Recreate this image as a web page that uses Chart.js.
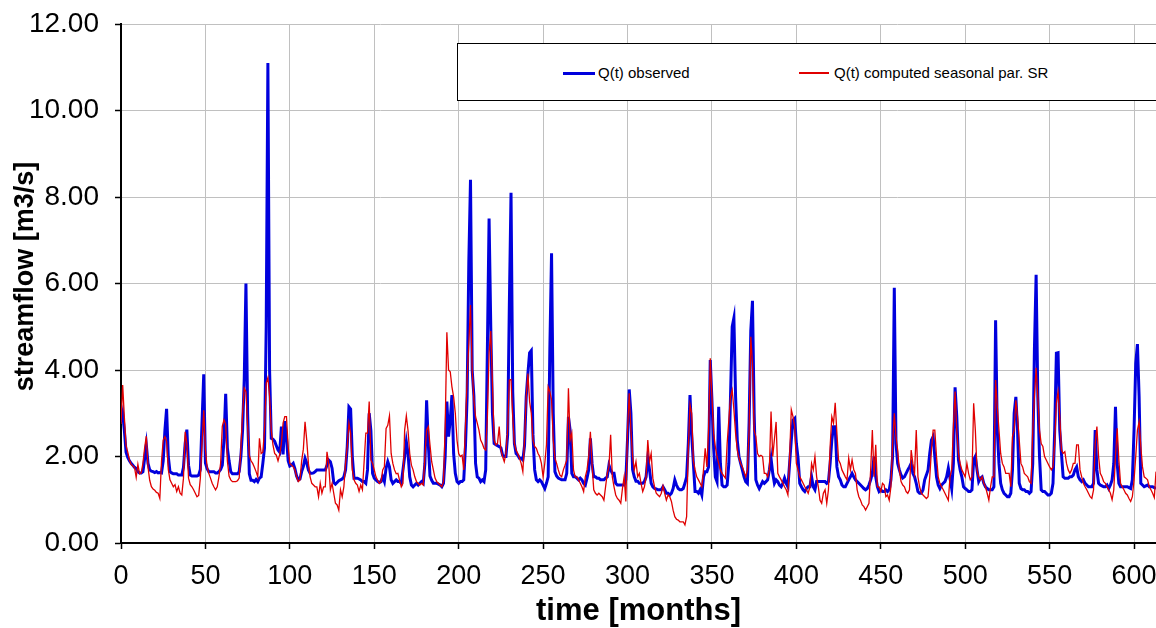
<!DOCTYPE html>
<html>
<head>
<meta charset="utf-8">
<title>Streamflow: observed vs computed</title>
<script src="https://cdn.jsdelivr.net/npm/chart.js@4.4.1/dist/chart.umd.min.js"></script>
<style>
  html, body { margin:0; padding:0; background:#fff; }
  #wrap { position:relative; width:1156px; height:628px; overflow:hidden; }
  #chart { position:absolute; left:0; top:0; }
  #legend { position:absolute; left:457px; top:43px; width:760px; height:58px; box-sizing:border-box;
            border:1.5px solid #000; background:#fff;
            font-family:'Liberation Sans', Arial, sans-serif; font-size:15px; color:#000; }
  .sw { position:absolute; }
  .lt { position:absolute; white-space:nowrap; line-height:18px; }
</style>
</head>
<body>
<div id="wrap">
  <canvas id="chart" width="1156" height="628"></canvas>
  <div id="legend"></div>
</div>
<script>
// ---- chart data (monthly values, month index = position in array) ----
const obsName = 'Q(t) observed';
const simName = 'Q(t) computed seasonal par. SR';
const xTitle = 'time [months]';
const yTitle = 'streamflow [m3/s]';
const xMax = 613;
const xStep = 50;
const yMin = 0, yMax = 12, yStep = 2;

const obs = [
  2.8, 3.0, 2.6, 2.1, 1.98, 1.9, 1.84, 1.8, 1.75, 1.72, 1.65, 1.62,
  1.62, 1.65, 1.95, 2.27, 1.84, 1.69, 1.66, 1.65, 1.63, 1.65, 1.62, 1.63,
  1.62, 1.9, 2.6, 3.1, 2.0, 1.65, 1.62, 1.6, 1.6, 1.6, 1.57, 1.57,
  1.57, 1.75, 2.3, 2.62, 1.8, 1.57, 1.55, 1.55, 1.55, 1.55, 1.57, 1.7,
  2.8, 3.9, 1.85, 1.72, 1.65, 1.65, 1.65, 1.65, 1.62, 1.62, 1.65, 1.7,
  1.8, 2.4, 3.45, 2.2, 1.9, 1.65, 1.6, 1.6, 1.6, 1.6, 1.65, 2.0,
  2.6, 3.8, 6.0, 3.0, 1.6, 1.45, 1.45, 1.42, 1.47, 1.42, 1.5, 1.53,
  1.84, 2.2, 5.0, 11.1, 4.0, 2.42, 2.4, 2.35, 2.25, 2.15, 2.1, 2.69,
  2.05, 2.82, 2.45, 1.9, 1.78, 1.8, 1.84, 1.72, 1.55, 1.46, 1.48, 1.65,
  1.77, 1.96, 1.85, 1.69, 1.61, 1.61, 1.62, 1.65, 1.69, 1.69, 1.69, 1.69,
  1.69, 1.69, 1.8, 1.92, 1.88, 1.73, 1.4, 1.36, 1.4, 1.44, 1.46, 1.48, 1.53,
  1.69, 2.23, 3.15, 3.1, 2.0, 1.5, 1.5, 1.5, 1.48, 1.46, 1.42, 1.42,
  1.38, 1.69, 3.0, 2.6, 1.61, 1.5, 1.46, 1.42, 1.4, 1.42, 1.53, 1.42,
  1.73, 1.88, 1.76, 1.46, 1.38, 1.42, 1.46, 1.42, 1.42, 1.38, 1.69, 2.0,
  2.34, 2.07, 1.53, 1.34, 1.3, 1.34, 1.38, 1.34, 1.38, 1.42, 1.38, 1.84,
  3.3, 2.3, 1.55, 1.45, 1.38, 1.38, 1.38, 1.36, 1.34, 1.3, 1.38, 2.0,
  3.27, 2.46, 2.84, 3.42, 2.07, 1.61, 1.42, 1.38, 1.42, 1.42, 1.46, 2.23,
  3.38, 6.5, 8.4, 4.0, 3.4, 1.84, 1.53, 1.5, 1.42, 1.46, 1.42, 1.69,
  4.5, 7.5, 5.0, 3.0, 2.3, 2.27, 2.25, 2.23, 2.2, 2.03, 2.0, 2.0,
  2.5, 5.5, 8.1, 3.5, 2.3, 2.07, 2.03, 1.96, 1.96, 1.92, 2.25, 3.38,
  3.92, 4.4, 4.45, 2.5, 1.69, 1.46, 1.42, 1.46, 1.42, 1.34, 1.26, 1.38,
  1.53, 4.5, 6.7, 3.0, 1.65, 1.55, 1.5, 1.48, 1.46, 1.46, 1.46, 1.61,
  2.92, 2.61, 1.61, 1.53, 1.53, 1.5, 1.46, 1.5, 1.46, 1.38, 1.34, 1.5,
  1.69, 2.42, 1.84, 1.53, 1.53, 1.5, 1.5, 1.46, 1.46, 1.46, 1.5, 1.53,
  1.8, 1.69, 1.61, 1.61, 1.38, 1.34, 1.34, 1.34, 1.34, 1.34, 1.46, 2.4,
  3.55, 3.0, 1.7, 1.53, 1.43, 1.43, 1.38, 1.38, 1.38, 1.42, 1.53, 1.96,
  1.7, 1.38, 1.3, 1.26, 1.25, 1.23, 1.23, 1.23, 1.3, 1.23, 1.15, 1.15,
  1.11, 1.15, 1.26, 1.46, 1.34, 1.26, 1.23, 1.23, 1.26, 1.38, 1.53, 2.3,
  3.42, 2.5, 1.84, 1.19, 1.19, 1.15, 1.23, 1.11, 1.53, 1.65, 1.65, 1.76,
  4.23, 3.3, 2.2, 1.53, 1.42, 3.15, 1.84, 1.34, 1.3, 1.3, 1.34, 1.84, 3.38,
  5.0, 5.2, 3.38, 2.38, 2.0, 1.84, 1.69, 1.53, 1.42, 1.38, 2.77, 4.9,
  5.6, 3.0, 1.46, 1.34, 1.26, 1.34, 1.42, 1.38, 1.42, 1.46, 1.69, 1.96,
  1.61, 1.38, 1.46, 1.42, 1.34, 1.3, 1.38, 1.5, 1.38, 1.3, 1.84, 2.38,
  2.84, 2.88, 2.3, 1.96, 1.38, 1.3, 1.23, 1.19, 1.26, 1.3, 1.3, 1.53,
  1.3, 1.23, 1.42, 1.42, 1.42, 1.42, 1.42, 1.42, 1.38, 1.42, 1.84, 2.38,
  2.69, 2.69, 1.76, 1.53, 1.46, 1.34, 1.3, 1.3, 1.38, 1.46, 1.53, 1.61,
  1.53, 1.46, 1.42, 1.38, 1.34, 1.3, 1.26, 1.23, 1.26, 1.34, 1.46, 1.61,
  2.0, 1.53, 1.3, 1.19, 1.23, 1.19, 1.19, 1.23, 1.19, 1.23, 1.46, 2.0,
  5.9, 2.3, 1.84, 1.69, 1.57, 1.5, 1.53, 1.61, 1.69, 1.76, 1.84, 1.61,
  1.53, 1.38, 1.19, 1.15, 1.15, 1.23, 1.46, 1.57, 1.69, 2.07, 2.38, 2.46,
  2.0, 1.53, 1.34, 1.26, 1.34, 1.38, 1.42, 1.53, 1.73, 1.5, 1.26, 1.84,
  3.6, 2.92, 1.92, 1.69, 1.53, 1.3, 1.26, 1.23, 1.19, 1.19, 1.23, 1.92,
  2.0, 1.69, 1.42, 1.5, 1.53, 1.38, 1.3, 1.26, 1.23, 1.23, 1.23, 1.3,
  5.15, 2.61, 1.84, 1.38, 1.23, 1.15, 1.11, 1.07, 1.07, 1.15, 1.69, 3.0,
  3.38, 2.61, 1.38, 1.26, 1.23, 1.23, 1.19, 1.19, 1.15, 1.19, 1.84, 4.5,
  6.2, 3.38, 2.0, 1.23, 1.19, 1.19, 1.15, 1.11, 1.11, 1.15, 1.38, 2.61,
  4.39, 4.4, 2.61, 2.07, 1.53, 1.5, 1.5, 1.5, 1.53, 1.53, 1.57, 1.69,
  1.76, 1.53, 1.46, 1.42, 1.46, 1.38, 1.34, 1.3, 1.3, 1.3, 1.38, 2.61,
  1.69, 1.38, 1.34, 1.32, 1.3, 1.3, 1.34, 1.26, 1.34, 1.46, 1.84, 3.15,
  1.84, 1.38, 1.3, 1.3, 1.3, 1.3, 1.3, 1.28, 1.26, 1.46, 2.61, 4.15,
  4.6, 3.38, 1.38, 1.34, 1.3, 1.32, 1.34, 1.3, 1.3, 1.3, 1.28, 1.26
];

const sim = [
  2.75, 3.65, 2.9, 2.25, 2.1, 1.92, 1.82, 1.78, 1.75, 1.52, 1.82, 1.6,
  1.62, 1.85, 2.2, 2.47, 1.75, 1.45, 1.3, 1.25, 1.22, 1.17, 1.15, 1.03,
  1.9, 2.38, 2.46, 2.35, 1.7, 1.46, 1.38, 1.3, 1.35, 1.19, 1.3, 1.15,
  1.11, 1.5, 2.57, 2.3, 1.5, 1.35, 1.3, 1.23, 1.15, 1.07, 1.1, 1.5,
  2.3, 3.07, 2.15, 1.76, 1.61, 1.5, 1.38, 1.3, 1.23, 1.3, 1.53, 1.84,
  2.7, 2.85, 2.75, 1.9, 1.55, 1.46, 1.42, 1.42, 1.42, 1.44, 1.5, 2.2,
  3.0, 3.58, 3.5, 2.69, 2.03, 1.9, 1.84, 1.75, 1.65, 1.53, 2.42, 2.07,
  2.1, 2.61, 3.69, 3.82, 3.38, 2.6, 2.27, 2.07, 2.03, 1.9, 2.05, 2.3,
  2.77, 2.92, 2.92, 2.23, 1.84, 1.8, 1.76, 1.69, 1.53, 1.42, 1.46, 1.9,
  2.17, 2.8, 2.38, 1.84, 1.53, 1.38, 1.34, 1.3, 1.3, 1.07, 1.38, 1.15,
  1.3, 1.3, 2.11, 1.84, 1.23, 1.38, 1.15, 0.92, 0.88, 0.76, 1.23, 1.07, 1.3,
  1.84, 2.23, 2.77, 2.54, 1.69, 1.46, 1.38, 1.34, 1.19, 1.34, 1.23, 1.88,
  2.54, 2.54, 3.27, 1.92, 1.84, 1.69, 1.53, 1.45, 1.38, 1.42, 1.69, 1.76,
  2.65, 2.72, 2.94, 2.07, 1.84, 1.69, 1.6, 1.61, 1.45, 1.3, 1.38, 2.61,
  2.94, 2.6, 2.07, 1.8, 1.69, 1.53, 1.42, 1.38, 1.34, 1.38, 1.34, 2.0,
  2.61, 2.69, 2.27, 1.88, 1.69, 1.5, 1.42, 1.38, 1.34, 1.3, 1.42, 2.69,
  4.87, 4.0, 3.96, 3.61, 3.38, 3.0, 2.38, 2.07, 2.0, 2.03, 1.69, 2.69,
  3.8, 4.6, 5.5, 4.0, 3.3, 2.92, 2.77, 2.61, 2.38, 2.3, 2.19, 2.15,
  2.92, 4.4, 4.9, 3.69, 2.38, 2.27, 2.3, 2.69, 2.15, 2.0, 1.88, 2.07,
  2.61, 3.77, 3.78, 2.92, 2.3, 2.15, 2.07, 1.96, 1.84, 1.65, 2.38, 3.38,
  3.92, 3.27, 3.0, 2.38, 2.23, 2.19, 2.07, 2.0, 1.84, 1.53, 1.84, 2.27,
  3.61, 3.5, 3.31, 2.38, 1.96, 1.84, 1.69, 1.57, 1.53, 1.69, 1.8, 1.92,
  3.58, 2.38, 2.54, 1.69, 1.53, 1.53, 1.46, 1.38, 1.3, 1.19, 1.53, 1.69,
  2.0, 2.57, 1.8, 1.23, 1.15, 1.11, 1.15, 1.11, 1.07, 0.99, 1.3, 1.61,
  1.76, 2.5, 1.53, 1.3, 1.11, 1.03, 0.99, 0.92, 1.26, 1.53, 0.96, 2.61,
  3.46, 2.61, 2.0, 1.69, 1.88, 1.53, 1.61, 1.38, 1.19, 1.3, 1.53, 2.38,
  1.88, 2.07, 1.5, 1.3, 1.15, 1.11, 1.07, 1.15, 1.32, 1.15, 0.99, 1.11,
  1.07, 0.96, 0.76, 0.61, 0.55, 0.53, 0.49, 0.49, 0.49, 0.42, 0.61, 2.2,
  3.2, 3.0, 1.9, 1.69, 1.53, 1.46, 1.38, 1.3, 1.69, 2.19, 1.76, 2.61,
  4.27, 3.38, 2.54, 2.23, 2.0, 1.84, 1.69, 1.61, 1.55, 1.5, 2.3, 2.84, 3.38,
  3.54, 3.08, 2.54, 2.15, 1.96, 1.84, 1.76, 1.65, 1.53, 1.69, 2.61, 4.77,
  4.15, 2.61, 2.46, 2.07, 2.0, 2.03, 2.0, 1.61, 1.61, 1.53, 1.7, 3.04,
  2.0, 2.4, 2.8, 1.61, 1.53, 1.46, 1.38, 1.3, 1.23, 1.11, 2.0, 3.08,
  2.92, 2.69, 1.84, 1.69, 1.53, 1.46, 1.38, 1.3, 1.23, 1.15, 1.3, 1.84,
  1.69, 2.0, 1.53, 1.3, 0.99, 0.92, 1.15, 1.23, 0.92, 1.23, 2.23, 2.92,
  2.77, 3.24, 2.54, 1.92, 1.84, 1.69, 1.61, 1.53, 1.46, 1.96, 1.69, 1.92,
  1.69, 1.61, 1.23, 1.07, 0.99, 0.88, 0.84, 0.76, 0.84, 0.92, 1.69, 2.61,
  1.53, 2.27, 1.3, 1.3, 1.19, 1.38, 1.34, 1.07, 1.11, 0.99, 1.3, 2.3,
  3.0, 2.46, 2.15, 1.69, 1.42, 1.34, 1.3, 1.19, 1.15, 1.23, 2.15, 1.84,
  1.61, 2.61, 1.53, 1.3, 1.15, 1.11, 1.07, 1.03, 1.07, 1.53, 2.15, 2.61,
  2.61, 2.0, 1.53, 1.38, 1.3, 1.23, 1.15, 1.07, 0.99, 1.53, 1.69, 2.69,
  3.5, 2.61, 2.07, 1.84, 1.69, 1.61, 1.53, 1.84, 1.61, 1.46, 1.53, 3.23,
  2.61, 1.69, 1.53, 1.46, 1.53, 1.38, 1.3, 1.15, 0.99, 1.3, 1.53, 1.53,
  3.77, 3.15, 2.61, 2.07, 1.84, 1.76, 1.61, 1.61, 1.61, 1.3, 2.46, 2.61,
  3.3, 2.92, 2.38, 1.84, 1.76, 1.61, 1.57, 1.53, 1.42, 1.38, 2.61, 3.38,
  4.05, 3.38, 2.61, 2.3, 2.23, 2.0, 1.92, 1.84, 1.76, 1.69, 1.76, 2.3,
  3.23, 3.5, 2.92, 2.15, 2.07, 2.11, 1.84, 1.69, 1.61, 1.69, 1.84, 1.84,
  2.27, 2.27, 1.69, 1.53, 1.38, 1.3, 1.23, 1.15, 1.07, 1.03, 1.23, 2.3,
  2.69, 2.0, 1.61, 1.53, 1.42, 1.38, 1.3, 1.23, 1.15, 1.0, 1.23, 2.0,
  2.65, 1.92, 1.38, 1.3, 1.23, 1.15, 1.11, 1.03, 0.96, 1.07, 1.46, 2.0,
  2.61, 2.8, 2.23, 1.76, 1.53, 1.5, 1.46, 1.3, 1.23, 1.15, 1.05, 1.65
];

// ---- styles ----
const obsColor = '#0000dd';
const simColor = '#e00000';
const fontFamily = "'Liberation Sans', Arial, sans-serif";

// ---- legend (HTML text) ----
const legend = document.getElementById('legend');
[
  {text: obsName, color: obsColor, lw: 3,   lineLeft: 105, lineW: 32, textLeft: 140},
  {text: simName, color: simColor, lw: 1.5, lineLeft: 341, lineW: 30, textLeft: 376}
].forEach(it => {
  const sw = document.createElement('div');
  sw.className = 'sw';
  sw.style.left = it.lineLeft + 'px';
  sw.style.width = it.lineW + 'px';
  sw.style.height = it.lw + 'px';
  sw.style.top = (29 - it.lw / 2) + 'px';
  sw.style.background = it.color;
  legend.appendChild(sw);
  const t = document.createElement('div');
  t.className = 'lt';
  t.style.left = it.textLeft + 'px';
  t.style.top = '20px';
  t.textContent = it.text;
  legend.appendChild(t);
});

// ---- y-axis title, drawn rotated beside the axis ----
const yTitlePlugin = {
  id: 'yAxisTitle',
  afterDraw(chart) {
    const ctx = chart.ctx;
    const yScale = chart.scales.y;
    ctx.save();
    ctx.translate(26, (yScale.top + yScale.bottom) / 2 - 7);
    ctx.rotate(-Math.PI / 2);
    ctx.font = 'bold 27px ' + fontFamily;
    ctx.fillStyle = '#000';
    ctx.textAlign = 'center';
    ctx.textBaseline = 'middle';
    ctx.fillText(yTitle, 0, 0);
    ctx.restore();
  }
};

// ---- chart ----
Chart.defaults.font.family = fontFamily;
Chart.defaults.color = '#000';

const gridOpts = { color: '#c0c0c0', lineWidth: 1, tickColor: '#000', tickLength: 6, tickWidth: 1.5 };
const borderOpts = { color: '#000', width: 2 };

new Chart(document.getElementById('chart'), {
  type: 'line',
  data: {
    datasets: [
      { label: simName, data: sim.map((v, i) => ({x: i, y: v})), borderColor: simColor,
        borderWidth: 1.3, pointRadius: 0, tension: 0, fill: false },
      { label: obsName, data: obs.map((v, i) => ({x: i, y: v})), borderColor: obsColor,
        borderWidth: 3, pointRadius: 0, tension: 0, fill: false }
    ]
  },
  options: {
    responsive: false,
    animation: false,
    events: [],
    layout: { padding: { top: 24, right: 0, bottom: 0, left: 0 } },
    plugins: { legend: { display: false }, tooltip: { enabled: false } },
    scales: {
      x: {
        type: 'linear', min: 0, max: xMax,
        ticks: { stepSize: xStep, includeBounds: false, padding: 11, font: { size: 27 }, maxRotation: 0, autoSkip: false },
        grid: gridOpts,
        border: borderOpts,
        title: { display: true, text: xTitle, font: { size: 31, weight: 'bold' }, padding: { top: 0, bottom: -2 } },
        afterFit(s) { s.height = 85; s.paddingLeft = 0; s.paddingRight = 0; }
      },
      y: {
        min: yMin, max: yMax,
        ticks: { stepSize: yStep, padding: 16, font: { size: 28 }, callback: v => Number(v).toFixed(2) },
        grid: gridOpts,
        border: borderOpts,
        title: { display: false, text: yTitle },
        afterFit(s) { s.width = 121; s.paddingTop = 0; s.paddingBottom = 0; }
      }
    }
  },
  plugins: [yTitlePlugin]
});
</script>
</body>
</html>
